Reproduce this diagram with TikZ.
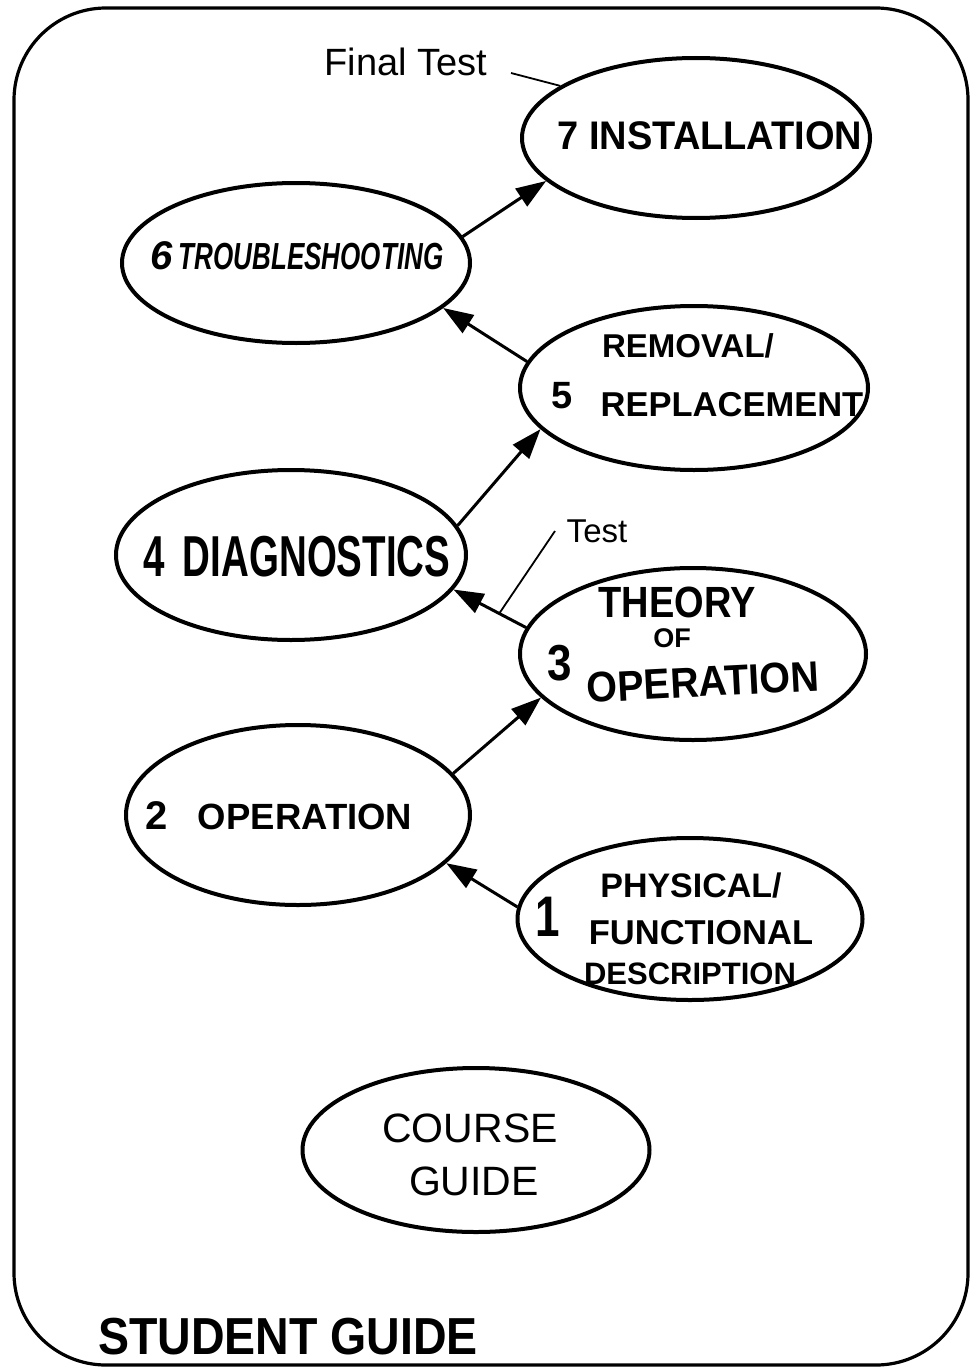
\documentclass[tikz,border=0pt]{standalone}
\usepackage{fontspec}
\setmainfont{Liberation Sans}
\usepackage{graphicx}
\usetikzlibrary{shapes.geometric,arrows.meta}
\newcommand{\hw}[3]{{\fontsize{#1}{#1}\selectfont\scalebox{1}[#2]{#3}}}
\begin{document}
\begin{tikzpicture}[x=1pt,y=-1pt,
  ell/.style={draw, ellipse, line width=4pt, inner sep=0pt},
  flow/.style={line width=3pt, -{Triangle[length=30pt,width=21pt]}},
  lead/.style={line width=1.8pt},
  txt/.style={inner sep=0pt, anchor=center},
  btxt/.style={txt, font=\bfseries},
]
\useasboundingbox (0,0) rectangle (979,1370);
\draw[line width=3.2pt, rounded corners=92pt] (14,8) rectangle (968,1365);

% ellipses
\node[ell, minimum width=348pt, minimum height=160pt] (n7) at (696,138) {};
\node[ell, minimum width=348pt, minimum height=160pt] (n6) at (296,263) {};
\node[ell, minimum width=348pt, minimum height=164pt] (n5) at (694,388) {};
\node[ell, minimum width=350pt, minimum height=170pt] (n4) at (291,555) {};
\node[ell, minimum width=346pt, minimum height=172pt] (n3) at (693,654) {};
\node[ell, minimum width=344pt, minimum height=180pt] (n2) at (298,815) {};
\node[ell, minimum width=345pt, minimum height=162pt] (n1) at (690,919) {};
\node[ell, minimum width=347pt, minimum height=164pt] (ncg) at (476,1150) {};

% texts
\node[btxt] (t7) at (710,136) {\hw{38}{1.05}{7 INSTALLATION}};
\node[txt, font=\bfseries\itshape] (t6) at (297,256) {\hw{40}{1}{6}\hspace{6pt}\hw{26}{1.45}{TROUBLESHOOTING}};
\node[btxt] (t5n) at (562,396) {\hw{38}{1}{5}};
\node[btxt] (t5a) at (688,346) {\hw{33}{1}{REMOVAL/}};
\node[btxt] (t5b) at (732,405) {\hw{34.5}{1}{REPLACEMENT}};
\node[btxt] (t4) at (297,557) {\hw{38.5}{1.5}{4\hspace{18pt}DIAGNOSTICS}};
\node[btxt] (t3n) at (560,663) {\hw{44}{1.15}{3}};
\node[btxt] (t3a) at (677,602) {\hw{38}{1.15}{THEORY}};
\node[btxt] (t3b) at (672,638) {\hw{27}{1}{OF}};
\node[btxt, rotate=3] (t3c) at (703,682) {\hw{39.5}{1.08}{OPERATION}};
\node[btxt] (t2) at (279,816) {\hw{40}{1}{2}\hspace{30pt}\hw{36.5}{1}{OPERATION}};
\node[btxt] (t1n) at (548,917) {\hw{44}{1.3}{1}};
\node[btxt] (t1a) at (691,886) {\hw{34}{1}{PHYSICAL/}};
\node[btxt] (t1b) at (701,933) {\hw{34.5}{1}{FUNCTIONAL}};
\node[btxt] (t1c) at (690,974) {\hw{31}{1}{DESCRIPTION}};
\node[txt] (tcg1) at (470,1128) {\hw{41}{1}{COURSE}};
\node[txt] (tcg2) at (474,1181) {\hw{41}{1}{GUIDE}};
\node[btxt] (tsg) at (288,1337) {\hw{46.5}{1.12}{STUDENT GUIDE}};

% annotations
\node[txt] (lft) at (406,62) {\hw{38}{1}{Final Test}};
\coordinate (ftend) at (511,73);
\draw[lead] (ftend) -- (n7.159);
\node[txt] (ltest) at (597,531) {\hw{33}{1}{Test}};
\coordinate (testend) at (555,531);

% connectors
\draw[flow] (n1.176) -- (n2.342);
\draw[flow] (n2.15) -- (n3.196);
\draw[flow] (n3.171) -- coordinate[pos=0.37] (tp) (n4.348);
\draw[flow] (n4.10) -- (n5.195);
\draw[flow] (n5.171) -- (n6.343);
\draw[flow] (n6.9) -- (n7.196);
\draw[lead] (tp) -- (testend);
\end{tikzpicture}
\end{document}
